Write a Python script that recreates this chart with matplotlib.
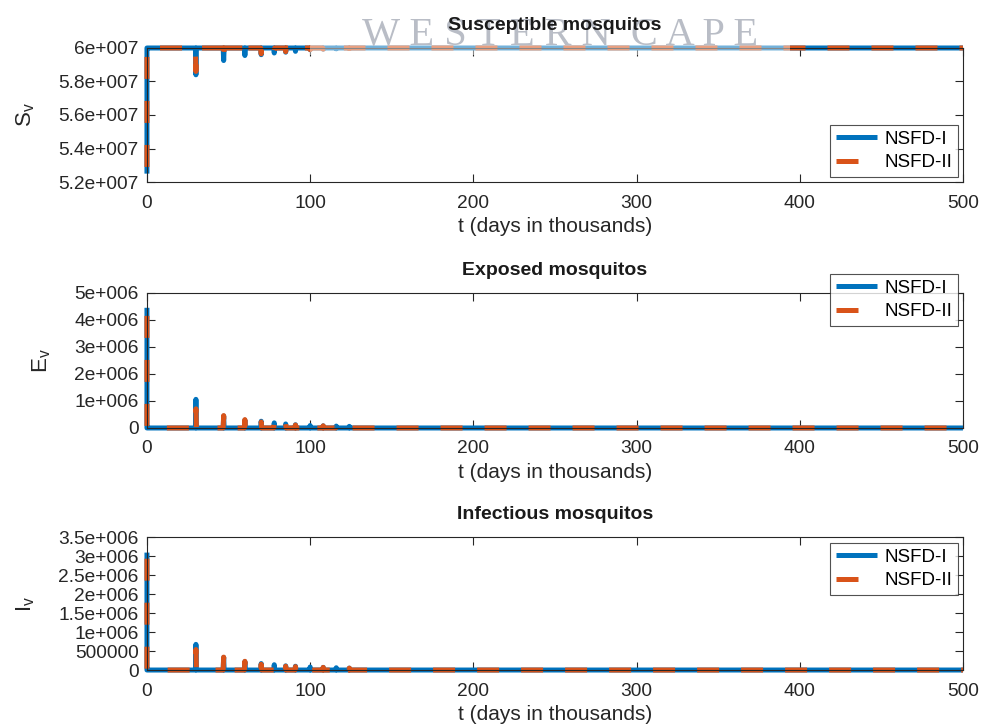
import matplotlib
matplotlib.use("Agg")
import matplotlib.pyplot as plt
from matplotlib.patches import Rectangle

plt.rcParams['font.family'] = ['Liberation Sans', 'DejaVu Sans']

BLUE = '#0072BD'
ORANGE = '#D95319'

# spike times (days in thousands) shared by both schemes
spike_t = [30, 47, 60, 70, 78, 85, 91, 100, 108, 116, 124]

# Susceptible mosquitos
sv_base = 6.0e7
sv_start_1 = 5.25e7
sv_start_2 = 5.29e7
sv_peak_1 = [5.84e7, 5.925e7, 5.955e7, 5.96e7, 5.97e7, 5.975e7, 5.98e7, 5.99e7, 5.993e7, 5.995e7, 5.997e7]
sv_peak_2 = [5.86e7, 5.92e7, 5.95e7, 5.965e7, 5.97e7, 5.978e7, 5.982e7, 5.99e7, 5.993e7, 5.995e7, 5.997e7]

# Exposed mosquitos
ev_base = 0.0
ev_start_1 = 4.45e6
ev_start_2 = 4.15e6
ev_peak_1 = [1.06e6, 0.44e6, 0.29e6, 0.25e6, 0.19e6, 0.15e6, 0.12e6, 0.09e6, 0.08e6, 0.07e6, 0.06e6]
ev_peak_2 = [0.71e6, 0.46e6, 0.31e6, 0.22e6, 0.20e6, 0.14e6, 0.11e6, 0.09e6, 0.08e6, 0.07e6, 0.06e6]

# Infectious mosquitos
iv_base = 0.0
iv_start_1 = 3.09e6
iv_start_2 = 2.93e6
iv_peak_1 = [0.675e6, 0.33e6, 0.22e6, 0.17e6, 0.14e6, 0.11e6, 0.10e6, 0.08e6, 0.07e6, 0.06e6, 0.05e6]
iv_peak_2 = [0.54e6, 0.34e6, 0.23e6, 0.15e6, 0.14e6, 0.10e6, 0.09e6, 0.08e6, 0.07e6, 0.06e6, 0.05e6]

t_end = 500

sv_ticks = [5.2e7, 5.4e7, 5.6e7, 5.8e7, 6.0e7]
sv_ticklabels = ['5.2e+007', '5.4e+007', '5.6e+007', '5.8e+007', '6e+007']
ev_ticks = [0, 1e6, 2e6, 3e6, 4e6, 5e6]
ev_ticklabels = ['0', '1e+006', '2e+006', '3e+006', '4e+006', '5e+006']
iv_ticks = [0, 0.5e6, 1e6, 1.5e6, 2e6, 2.5e6, 3e6, 3.5e6]
iv_ticklabels = ['0', '500000', '1e+006', '1.5e+006', '2e+006', '2.5e+006', '3e+006', '3.5e+006']
x_ticks = [0, 100, 200, 300, 400, 500]


def build_series(start, base, peaks):
    # initial transient at t=0, then one-step spikes off the equilibrium
    t = [0, 0, 0.3]
    y = [start, base, base]
    for tk, pk in zip(spike_t, peaks):
        t += [tk - 0.3, tk, tk + 0.3]
        y += [base, pk, base]
    t.append(t_end)
    y.append(base)
    return t, y


def draw_panel(ax, title, ylabel, series_1, series_2, ylim, ticks, ticklabels,
               legend_loc, legend_anchor):
    t1, y1 = series_1
    t2, y2 = series_2
    ax.plot(t1, y1, color=BLUE, lw=3.6, solid_capstyle='butt', clip_on=False, label='NSFD-I')
    ax.plot(t2, y2, color=ORANGE, lw=3.6, ls=(0, (4.4, 4.4)), dash_capstyle='butt',
            clip_on=False, label='NSFD-II')
    ax.set_xlim(0, t_end)
    ax.set_ylim(*ylim)
    ax.set_xticks(x_ticks)
    ax.set_yticks(ticks)
    ax.set_yticklabels(ticklabels)
    ax.tick_params(direction='in', length=6, width=0.8, top=True, right=True,
                   labelsize=13.8, colors='#262626', pad=6)
    ax.tick_params(axis='x', pad=9)
    for sp in ax.spines.values():
        sp.set_color('#262626')
        sp.set_linewidth(0.8)
    ax.set_xlabel('t (days in thousands)', fontsize=15, color='#262626', labelpad=4)
    ax.set_ylabel(ylabel, fontsize=16, color='#262626', labelpad=15)
    ax.set_title(title, fontsize=14, fontweight='bold', color='#1a1a1a', pad=13)
    leg = ax.legend(loc=legend_loc, bbox_to_anchor=legend_anchor, fontsize=13.5,
                    frameon=True, fancybox=False, handlelength=2.2, handletextpad=0.4,
                    borderpad=0.3, labelspacing=0.35, borderaxespad=0)
    leg.get_frame().set_edgecolor('#262626')
    leg.get_frame().set_linewidth(0.8)


fig = plt.figure(figsize=(9.81, 7.26), dpi=100)
ax1 = fig.add_axes([0.1498, 0.7493, 0.8318, 0.1846])
ax2 = fig.add_axes([0.1498, 0.4105, 0.8318, 0.1860])
ax3 = fig.add_axes([0.1498, 0.0771, 0.8318, 0.1832])

draw_panel(ax1, 'Susceptible mosquitos', r'$\mathregular{S_v}$',
           build_series(sv_start_1, sv_base, sv_peak_1),
           build_series(sv_start_2, sv_base, sv_peak_2),
           (5.2e7, 6.0e7), sv_ticks, sv_ticklabels, 'lower right', (0.994, 0.037))
draw_panel(ax2, 'Exposed mosquitos', r'$\mathregular{E_v}$',
           build_series(ev_start_1, ev_base, ev_peak_1),
           build_series(ev_start_2, ev_base, ev_peak_2),
           (0, 5e6), ev_ticks, ev_ticklabels, 'upper right', (0.994, 1.14))
draw_panel(ax3, 'Infectious mosquitos', r'$\mathregular{I_v}$',
           build_series(iv_start_1, iv_base, iv_peak_1),
           build_series(iv_start_2, iv_base, iv_peak_2),
           (0, 3.5e6), iv_ticks, iv_ticklabels, 'upper right', (0.994, 0.955))

# faded watermark band across the top
ax1.add_patch(Rectangle((310 / 981, 1 - 55 / 726), 480 / 981, 55 / 726,
                        transform=fig.transFigure, facecolor='white', alpha=0.45,
                        edgecolor='none', clip_on=False, zorder=2.6))
ax1.text(560 / 981, 1 - 45 / 726, 'W E S T E R N  C A P E', transform=fig.transFigure,
         family=['Liberation Serif', 'DejaVu Serif'], fontsize=29, color='#b9bdc6',
         ha='center', va='baseline', zorder=2.7, clip_on=False)

fig.savefig('out.png', dpi=100)
